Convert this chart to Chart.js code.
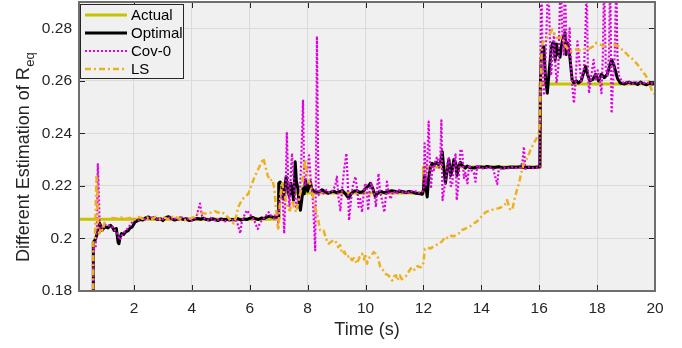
<!DOCTYPE html>
<html>
<head>
<meta charset="utf-8">
<script src="https://cdn.jsdelivr.net/npm/chart.js@4.4.1/dist/chart.umd.min.js"></script>
<style>
  html, body { margin: 0; padding: 0; background: #ffffff; }
  canvas { display: block; }
</style>
</head>
<body>
<canvas id="chart" width="682" height="348"></canvas>
<script>
// Equivalent resistance estimates over time
const seriesNames = ['Actual', 'Optimal', 'Cov-0', 'LS'];
const xTicks = [2, 4, 6, 8, 10, 12, 14, 16, 18, 20];
const yTicks = [0.18, 0.20, 0.22, 0.24, 0.26, 0.28];

const actualT = [0.1, 7.0, 7.0, 12.0, 12.0, 16.04, 16.04, 20.0];
const actualV = [0.2073, 0.2073, 0.2173, 0.2173, 0.2272, 0.2272, 0.2588, 0.2588];

const optimalT = [0.59, 0.595, 0.66, 0.73, 0.81, 0.86, 0.90, 0.96, 1.02, 1.10, 1.19, 1.26, 1.31, 1.39, 1.45, 1.48, 1.52, 1.57, 1.64, 1.71, 1.80, 1.87, 1.94, 2.03, 2.11, 2.2, 2.3, 2.4, 2.5, 2.6, 2.7, 2.8, 2.9, 3.0, 3.1, 3.2, 3.3, 3.4, 3.5, 3.6, 3.7, 3.8, 3.9, 4.0, 4.1, 4.2, 4.3, 4.4, 4.5, 4.6, 4.7, 4.8, 4.9, 5.0, 5.1, 5.2, 5.3, 5.4, 5.5, 5.6, 5.7, 5.8, 5.9, 6.0, 6.1, 6.2, 6.3, 6.4, 6.5, 6.6, 6.7, 6.8, 6.9, 6.98, 7.0, 7.05, 7.11, 7.16, 7.21, 7.26, 7.32, 7.37, 7.42, 7.47, 7.51, 7.54, 7.57, 7.61, 7.66, 7.71, 7.75, 7.80, 7.84, 7.88, 7.92, 7.96, 8.00, 8.04, 8.09, 8.14, 8.2, 8.3, 8.4, 8.5, 8.6, 8.7, 8.8, 8.9, 9.0, 9.1, 9.2, 9.3, 9.42, 9.5, 9.6, 9.7, 9.8, 9.9, 10.0, 10.1, 10.17, 10.25, 10.34, 10.42, 10.5, 10.6, 10.7, 10.8, 10.9, 11.0, 11.1, 11.2, 11.3, 11.4, 11.5, 11.6, 11.7, 11.8, 11.9, 11.96, 12.0, 12.04, 12.07, 12.13, 12.18, 12.24, 12.3, 12.37, 12.45, 12.52, 12.59, 12.65, 12.7, 12.76, 12.82, 12.88, 12.94, 12.99, 13.05, 13.11, 13.16, 13.22, 13.28, 13.34, 13.45, 13.51, 13.6, 13.74, 13.85, 14.0, 14.1, 14.2, 14.3, 14.45, 14.6, 14.75, 14.9, 15.05, 15.2, 15.35, 15.5, 15.65, 15.8, 15.95, 16.02, 16.04, 16.07, 16.1, 16.16, 16.22, 16.28, 16.33, 16.38, 16.42, 16.47, 16.51, 16.55, 16.6, 16.64, 16.68, 16.72, 16.76, 16.82, 16.89, 16.93, 16.98, 17.05, 17.14, 17.2, 17.28, 17.35, 17.45, 17.6, 17.68, 17.75, 17.85, 17.95, 18.05, 18.15, 18.25, 18.35, 18.5, 18.58, 18.7, 18.8, 18.95, 19.1, 19.2, 19.3, 19.4, 19.5, 19.6, 19.7, 19.8, 19.9, 20.0];
const optimalV = [0.170, 0.1986, 0.1995, 0.2019, 0.2059, 0.2045, 0.2031, 0.2040, 0.2044, 0.2040, 0.2050, 0.2042, 0.2031, 0.2038, 0.1985, 0.1980, 0.2005, 0.2019, 0.2015, 0.2025, 0.2030, 0.2040, 0.2044, 0.2062, 0.2067, 0.2072, 0.2070, 0.2078, 0.2082, 0.2075, 0.2080, 0.2072, 0.2076, 0.2068, 0.2080, 0.2083, 0.2075, 0.2070, 0.2074, 0.2078, 0.2072, 0.2075, 0.2068, 0.2070, 0.2074, 0.2076, 0.2073, 0.2077, 0.2072, 0.2070, 0.2075, 0.2072, 0.2068, 0.2074, 0.2071, 0.2073, 0.2070, 0.2072, 0.2071, 0.2075, 0.2070, 0.2074, 0.2072, 0.2077, 0.2080, 0.2075, 0.2072, 0.2078, 0.2076, 0.2082, 0.2085, 0.2080, 0.2082, 0.2078, 0.2210, 0.2215, 0.2205, 0.2150, 0.2200, 0.2235, 0.2180, 0.2160, 0.2210, 0.2180, 0.2146, 0.2200, 0.2292, 0.2220, 0.2190, 0.2130, 0.2107, 0.2150, 0.2190, 0.2170, 0.2222, 0.2200, 0.2180, 0.2195, 0.2216, 0.2190, 0.2180, 0.2176, 0.2178, 0.2185, 0.2178, 0.2172, 0.2176, 0.2180, 0.2174, 0.2178, 0.2182, 0.2170, 0.2153, 0.2170, 0.2180, 0.2182, 0.2175, 0.2178, 0.2190, 0.2200, 0.2210, 0.2190, 0.2159, 0.2172, 0.2180, 0.2176, 0.2174, 0.2178, 0.2182, 0.2180, 0.2176, 0.2180, 0.2178, 0.2175, 0.2179, 0.2177, 0.2173, 0.2171, 0.2170, 0.2168, 0.2185, 0.2240, 0.2210, 0.2158, 0.2230, 0.2270, 0.2286, 0.2280, 0.2290, 0.2282, 0.2290, 0.2330, 0.2270, 0.2210, 0.2260, 0.2300, 0.2240, 0.2260, 0.2300, 0.2290, 0.2240, 0.2276, 0.2290, 0.2278, 0.2268, 0.2276, 0.2270, 0.2268, 0.2272, 0.2272, 0.2270, 0.2274, 0.2272, 0.2270, 0.2273, 0.2268, 0.2270, 0.2272, 0.2271, 0.2273, 0.2270, 0.2271, 0.2270, 0.2272, 0.2272, 0.2590, 0.2680, 0.2719, 0.2730, 0.2602, 0.2553, 0.2620, 0.2680, 0.2730, 0.2745, 0.2744, 0.2680, 0.2740, 0.2700, 0.2720, 0.2690, 0.2730, 0.2760, 0.2783, 0.2700, 0.2745, 0.2700, 0.2602, 0.2592, 0.2600, 0.2592, 0.2600, 0.2655, 0.2620, 0.2600, 0.2605, 0.2625, 0.2600, 0.2625, 0.2612, 0.2625, 0.2680, 0.2660, 0.2610, 0.2592, 0.2588, 0.2595, 0.2590, 0.2592, 0.2586, 0.2595, 0.2589, 0.2585, 0.2590, 0.2588, 0.2590];

const cov0T = [0.59, 0.595, 0.67, 0.72, 0.75, 0.79, 0.82, 0.90, 0.97, 1.05, 1.15, 1.25, 1.35, 1.42, 1.50, 1.55, 1.63, 1.72, 1.80, 1.89, 1.97, 2.05, 2.15, 2.25, 2.35, 2.45, 2.55, 2.65, 2.75, 2.85, 2.95, 3.05, 3.15, 3.25, 3.35, 3.45, 3.55, 3.65, 3.75, 3.85, 3.95, 4.05, 4.15, 4.28, 4.35, 4.45, 4.55, 4.65, 4.75, 4.85, 4.95, 5.05, 5.15, 5.25, 5.35, 5.45, 5.55, 5.62, 5.67, 5.72, 5.8, 5.9, 5.98, 6.06, 6.15, 6.22, 6.28, 6.35, 6.45, 6.55, 6.65, 6.75, 6.85, 6.93, 6.98, 7.03, 7.11, 7.16, 7.19, 7.24, 7.28, 7.33, 7.37, 7.42, 7.46, 7.5, 7.55, 7.6, 7.66, 7.72, 7.78, 7.84, 7.88, 7.92, 7.96, 8.0, 8.05, 8.1, 8.18, 8.26, 8.29, 8.32, 8.35, 8.38, 8.45, 8.55, 8.65, 8.75, 8.85, 8.95, 9.01, 9.07, 9.13, 9.2, 9.27, 9.34, 9.39, 9.43, 9.5, 9.56, 9.65, 9.72, 9.76, 9.82, 9.88, 9.94, 9.99, 10.04, 10.09, 10.14, 10.2, 10.27, 10.32, 10.36, 10.41, 10.45, 10.5, 10.56, 10.65, 10.7, 10.74, 10.8, 10.87, 10.95, 11.05, 11.15, 11.25, 11.35, 11.45, 11.55, 11.65, 11.75, 11.85, 11.95, 12.01, 12.04, 12.08, 12.12, 12.18, 12.22, 12.26, 12.31, 12.36, 12.42, 12.48, 12.54, 12.58, 12.62, 12.66, 12.72, 12.79, 12.85, 12.88, 12.94, 12.99, 13.05, 13.11, 13.15, 13.2, 13.28, 13.34, 13.4, 13.45, 13.52, 13.58, 13.66, 13.74, 13.8, 13.86, 13.95, 14.1, 14.25, 14.4, 14.55, 14.6, 14.75, 14.9, 15.05, 15.2, 15.35, 15.42, 15.47, 15.52, 15.6, 15.75, 15.9, 16.02, 16.05, 16.08, 16.12, 16.17, 16.22, 16.27, 16.31, 16.36, 16.41, 16.46, 16.51, 16.55, 16.6, 16.66, 16.74, 16.8, 16.85, 16.88, 16.94, 17.0, 17.05, 17.1, 17.16, 17.2, 17.26, 17.32, 17.38, 17.45, 17.55, 17.6, 17.64, 17.68, 17.72, 17.8, 17.88, 17.95, 18.02, 18.1, 18.15, 18.2, 18.24, 18.3, 18.36, 18.41, 18.45, 18.5, 18.56, 18.61, 18.66, 18.7, 18.75, 18.85, 18.95, 19.05, 19.15, 19.25, 19.4, 19.55, 19.7, 19.85, 20.0];
const cov0V = [0.170, 0.1960, 0.1961, 0.2050, 0.2286, 0.2150, 0.2019, 0.2044, 0.2050, 0.2055, 0.2048, 0.2044, 0.2030, 0.2019, 0.1995, 0.2006, 0.2020, 0.2030, 0.2040, 0.2056, 0.2065, 0.2072, 0.2070, 0.2078, 0.2070, 0.2080, 0.2074, 0.2084, 0.2070, 0.2078, 0.2068, 0.2080, 0.2074, 0.2082, 0.2070, 0.2078, 0.2072, 0.2080, 0.2070, 0.2076, 0.2068, 0.2072, 0.2080, 0.2133, 0.2085, 0.2075, 0.2070, 0.2078, 0.2072, 0.2066, 0.2074, 0.2070, 0.2065, 0.2072, 0.2068, 0.2072, 0.2066, 0.2040, 0.2019, 0.2060, 0.2085, 0.2107, 0.2095, 0.2085, 0.2070, 0.2050, 0.2036, 0.2060, 0.2072, 0.2085, 0.2100, 0.2085, 0.2075, 0.2110, 0.2060, 0.2140, 0.2190, 0.2100, 0.2019, 0.2200, 0.2401, 0.2200, 0.2120, 0.2250, 0.2324, 0.2240, 0.2180, 0.2120, 0.2150, 0.2146, 0.2300, 0.2528, 0.2230, 0.2200, 0.2250, 0.2260, 0.2316, 0.2230, 0.2146, 0.1955, 0.2300, 0.2770, 0.2400, 0.2165, 0.2180, 0.2172, 0.2185, 0.2175, 0.2180, 0.2200, 0.2235, 0.2150, 0.2107, 0.2200, 0.2270, 0.2324, 0.2200, 0.2069, 0.2150, 0.2200, 0.2235, 0.2180, 0.2120, 0.2150, 0.2100, 0.2180, 0.2210, 0.2190, 0.2107, 0.2180, 0.2210, 0.2180, 0.2160, 0.2120, 0.2200, 0.2247, 0.2180, 0.2150, 0.2100, 0.2160, 0.2216, 0.2170, 0.2150, 0.2180, 0.2170, 0.2185, 0.2175, 0.2180, 0.2170, 0.2182, 0.2176, 0.2180, 0.2174, 0.2178, 0.2185, 0.2362, 0.2200, 0.2260, 0.2445, 0.2300, 0.2190, 0.2280, 0.2260, 0.2300, 0.2310, 0.2270, 0.2300, 0.2450, 0.2146, 0.2190, 0.2240, 0.2300, 0.2310, 0.2200, 0.2200, 0.2280, 0.2320, 0.2146, 0.2200, 0.2340, 0.2330, 0.2230, 0.2250, 0.2210, 0.2280, 0.2260, 0.2250, 0.2216, 0.2280, 0.2270, 0.2265, 0.2272, 0.2268, 0.2207, 0.2262, 0.2270, 0.2266, 0.2272, 0.2268, 0.2270, 0.2290, 0.2349, 0.2265, 0.2272, 0.2268, 0.2270, 0.2272, 0.2757, 0.3000, 0.2600, 0.2545, 0.2700, 0.2850, 0.3000, 0.2800, 0.2620, 0.2700, 0.2780, 0.2680, 0.2592, 0.2650, 0.3000, 0.2780, 0.2700, 0.3000, 0.2750, 0.2700, 0.2800, 0.2650, 0.2560, 0.2515, 0.2600, 0.2750, 0.2680, 0.2600, 0.2650, 0.2800, 0.3000, 0.2650, 0.2553, 0.2620, 0.2680, 0.2600, 0.2640, 0.2600, 0.2553, 0.2700, 0.3000, 0.2650, 0.2620, 0.2700, 0.3000, 0.2477, 0.2620, 0.2700, 0.3000, 0.2700, 0.2620, 0.2598, 0.2590, 0.2600, 0.2592, 0.2588, 0.2596, 0.2590, 0.2594, 0.2588, 0.2592];

const lsT = [0.59, 0.595, 0.65, 0.70, 0.73, 0.76, 0.80, 0.86, 0.92, 0.98, 1.05, 1.12, 1.25, 1.4, 1.55, 1.7, 1.85, 2.0, 2.15, 2.3, 2.45, 2.6, 2.75, 2.9, 3.05, 3.2, 3.35, 3.5, 3.65, 3.8, 3.95, 4.05, 4.15, 4.28, 4.4, 4.55, 4.7, 4.8, 4.9, 5.0, 5.1, 5.2, 5.3, 5.44, 5.52, 5.6, 5.67, 5.75, 5.85, 5.95, 6.05, 6.15, 6.3, 6.47, 6.55, 6.62, 6.7, 6.78, 6.85, 6.9, 6.95, 6.99, 7.05, 7.11, 7.18, 7.25, 7.32, 7.39, 7.46, 7.53, 7.6, 7.66, 7.72, 7.8, 7.86, 7.92, 7.98, 8.03, 8.1, 8.17, 8.26, 8.35, 8.43, 8.55, 8.63, 8.72, 8.85, 8.95, 9.05, 9.12, 9.19, 9.27, 9.35, 9.45, 9.53, 9.6, 9.7, 9.8, 9.88, 9.95, 9.99, 10.05, 10.12, 10.2, 10.28, 10.35, 10.42, 10.51, 10.6, 10.68, 10.78, 10.85, 10.92, 10.98, 11.05, 11.1, 11.18, 11.25, 11.32, 11.43, 11.5, 11.6, 11.7, 11.8, 11.9, 11.98, 12.02, 12.05, 12.15, 12.25, 12.35, 12.42, 12.55, 12.65, 12.76, 12.85, 12.95, 13.05, 13.15, 13.22, 13.3, 13.4, 13.5, 13.6, 13.74, 13.85, 13.95, 14.05, 14.15, 14.32, 14.45, 14.6, 14.72, 14.82, 14.89, 14.95, 15.01, 15.08, 15.15, 15.22, 15.3, 15.38, 15.47, 15.58, 15.7, 15.8, 15.88, 15.99, 16.02, 16.05, 16.08, 16.11, 16.2, 16.28, 16.37, 16.45, 16.52, 16.6, 16.7, 16.8, 16.91, 17.0, 17.09, 17.2, 17.3, 17.4, 17.49, 17.6, 17.72, 17.85, 17.95, 18.05, 18.18, 18.3, 18.45, 18.55, 18.64, 18.75, 18.87, 19.0, 19.1, 19.2, 19.33, 19.45, 19.56, 19.68, 19.79, 19.85, 19.92, 20.0];
const lsV = [0.170, 0.1990, 0.2000, 0.2235, 0.2200, 0.2030, 0.2019, 0.2040, 0.2030, 0.2060, 0.2070, 0.2075, 0.2078, 0.2076, 0.2080, 0.2074, 0.2078, 0.2072, 0.2082, 0.2075, 0.2080, 0.2072, 0.2083, 0.2075, 0.2080, 0.2072, 0.2085, 0.2078, 0.2074, 0.2070, 0.2076, 0.2080, 0.2090, 0.2100, 0.2096, 0.2094, 0.2100, 0.2104, 0.2098, 0.2102, 0.2095, 0.2085, 0.2075, 0.2057, 0.2080, 0.2120, 0.2134, 0.2150, 0.2160, 0.2170, 0.2200, 0.2230, 0.2265, 0.2305, 0.2270, 0.2240, 0.2220, 0.2225, 0.2190, 0.2120, 0.2060, 0.2031, 0.2150, 0.2216, 0.2170, 0.2146, 0.2110, 0.2107, 0.2146, 0.2120, 0.2100, 0.2130, 0.2160, 0.2197, 0.2260, 0.2299, 0.2250, 0.2222, 0.2200, 0.2170, 0.2120, 0.2080, 0.2031, 0.2031, 0.2000, 0.1980, 0.1990, 0.1993, 0.1967, 0.1975, 0.1942, 0.1950, 0.1929, 0.1935, 0.1917, 0.1925, 0.1904, 0.1930, 0.1942, 0.1920, 0.1942, 0.1904, 0.1925, 0.1935, 0.1948, 0.1942, 0.1930, 0.1891, 0.1880, 0.1866, 0.1860, 0.1853, 0.1840, 0.1855, 0.1860, 0.1840, 0.1860, 0.1845, 0.1850, 0.1860, 0.1875, 0.1891, 0.1880, 0.1895, 0.1890, 0.1895, 0.1930, 0.1961, 0.1965, 0.1962, 0.1970, 0.1974, 0.1980, 0.1990, 0.2006, 0.2000, 0.2010, 0.2008, 0.2015, 0.2019, 0.2031, 0.2035, 0.2040, 0.2045, 0.2057, 0.2065, 0.2075, 0.2090, 0.2100, 0.2107, 0.2112, 0.2115, 0.2120, 0.2130, 0.2146, 0.2125, 0.2107, 0.2115, 0.2150, 0.2180, 0.2210, 0.2250, 0.2286, 0.2305, 0.2337, 0.2360, 0.2375, 0.2401, 0.2450, 0.2592, 0.2700, 0.2744, 0.2755, 0.2764, 0.2780, 0.2795, 0.2780, 0.2764, 0.2764, 0.2766, 0.2731, 0.2720, 0.2712, 0.2718, 0.2720, 0.2716, 0.2718, 0.2722, 0.2722, 0.2730, 0.2744, 0.2740, 0.2735, 0.2732, 0.2735, 0.2738, 0.2737, 0.2730, 0.2718, 0.2705, 0.2693, 0.2685, 0.2670, 0.2655, 0.2636, 0.2620, 0.2598, 0.2575, 0.2555, 0.2550];

const FONT = '"Liberation Sans", Arial, Helvetica, sans-serif';
const INK = '#262626';

function pairs(ts, vs) {
  return ts.map((t, i) => ({ x: t, y: vs[i] }));
}

const styles = [
  { color: '#c4c400', width: 3, dash: [] },
  { color: '#000000', width: 3, dash: [] },
  { color: '#e000e0', width: 2.2, dash: [2, 2] },
  { color: '#edb120', width: 2.5, dash: [6, 3, 2, 3] }
];
const seriesData = [
  pairs(actualT, actualV),
  pairs(optimalT, optimalV),
  pairs(cov0T, cov0V),
  pairs(lsT, lsV)
];

const datasets = seriesNames.map((name, i) => ({
  label: name,
  data: seriesData[i],
  borderColor: styles[i].color,
  borderWidth: styles[i].width,
  borderDash: styles[i].dash,
  borderCapStyle: 'butt',
  borderJoinStyle: 'round',
  pointRadius: 0,
  tension: 0,
  fill: false,
  clip: 0,
  order: seriesNames.length - i
}));

// Plot-area background, inner tick marks, frame, axis titles and legend
const decor = {
  id: 'decor',
  beforeDraw(chart) {
    const { ctx, chartArea: a } = chart;
    ctx.save();
    ctx.fillStyle = '#f0f0f0';
    ctx.fillRect(a.left, a.top, a.right - a.left, a.bottom - a.top);
    ctx.restore();
  },
  afterDraw(chart) {
    const { ctx, chartArea: a } = chart;
    const xs = chart.scales.x, ys = chart.scales.y;
    ctx.save();
    // inner tick marks on all four sides
    ctx.strokeStyle = INK;
    ctx.lineWidth = 1;
    ctx.beginPath();
    xTicks.forEach(v => {
      const px = Math.round(xs.getPixelForValue(v)) + 0.5;
      ctx.moveTo(px, a.bottom); ctx.lineTo(px, a.bottom - 6);
      ctx.moveTo(px, a.top); ctx.lineTo(px, a.top + 6);
    });
    yTicks.forEach(v => {
      const py = Math.round(ys.getPixelForValue(v)) + 0.5;
      ctx.moveTo(a.left, py); ctx.lineTo(a.left + 6, py);
      ctx.moveTo(a.right, py); ctx.lineTo(a.right - 6, py);
    });
    ctx.stroke();
    // frame
    ctx.strokeStyle = '#6e6e6e';
    ctx.lineWidth = 2;
    ctx.strokeRect(a.left, a.top, a.right - a.left, a.bottom - a.top);

    // x title
    ctx.fillStyle = INK;
    ctx.font = '18px ' + FONT;
    ctx.textAlign = 'center';
    ctx.textBaseline = 'alphabetic';
    ctx.fillText('Time (s)', (a.left + a.right) / 2, 334.5);

    // y title with subscript
    ctx.save();
    ctx.translate(28.5, 262);
    ctx.rotate(-Math.PI / 2);
    ctx.textAlign = 'left';
    ctx.font = '18px ' + FONT;
    const main = 'Different Estimation of R';
    ctx.fillText(main, 0, 0);
    const w = ctx.measureText(main).width;
    ctx.font = '13px ' + FONT;
    ctx.fillText('eq', w + 0.5, 5);
    ctx.restore();

    // legend
    const lx = 80.5, ly = 4.5, lw = 103, lh = 74;
    ctx.fillStyle = '#f0f0f0';
    ctx.fillRect(lx, ly, lw, lh);
    ctx.strokeStyle = INK;
    ctx.lineWidth = 1;
    ctx.strokeRect(lx, ly, lw, lh);
    const rows = [15, 33, 51, 69];
    ctx.font = '15px ' + FONT;
    ctx.textBaseline = 'middle';
    ctx.textAlign = 'left';
    seriesNames.forEach((name, i) => {
      const s = styles[i];
      ctx.save();
      ctx.strokeStyle = s.color;
      ctx.lineWidth = s.width;
      ctx.setLineDash(s.dash);
      ctx.lineCap = 'butt';
      ctx.beginPath();
      ctx.moveTo(85, rows[i]);
      ctx.lineTo(127, rows[i]);
      ctx.stroke();
      ctx.restore();
      ctx.fillStyle = '#000000';
      ctx.fillText(name, 131, rows[i] + 0.5);
    });
    ctx.restore();
  }
};

function noScalePadding(scale) {
  scale.paddingTop = 0;
  scale.paddingBottom = 0;
  scale.paddingLeft = 0;
  scale.paddingRight = 0;
}

new Chart(document.getElementById('chart'), {
  type: 'line',
  data: { datasets },
  options: {
    responsive: false,
    animation: false,
    devicePixelRatio: 1,
    layout: { padding: { top: 2, right: 27, left: 0, bottom: 0 } },
    plugins: { legend: { display: false }, tooltip: { enabled: false } },
    scales: {
      x: {
        type: 'linear',
        min: 0.1,
        max: 20,
        afterBuildTicks: (scale) => { scale.ticks = xTicks.map(v => ({ value: v })); },
        afterFit: (scale) => { scale.height = 57; noScalePadding(scale); },
        grid: { color: '#dadada', lineWidth: 1, drawTicks: false },
        border: { display: false },
        ticks: {
          padding: 8,
          maxRotation: 0,
          autoSkip: false,
          color: INK,
          font: { family: FONT, size: 15.5 },
          callback: (v) => String(v)
        }
      },
      y: {
        type: 'linear',
        min: 0.18,
        max: 0.29,
        afterBuildTicks: (scale) => { scale.ticks = yTicks.map(v => ({ value: v })); },
        afterFit: (scale) => { scale.width = 79; noScalePadding(scale); },
        grid: { color: '#dadada', lineWidth: 1, drawTicks: false },
        border: { display: false },
        ticks: {
          padding: 7,
          autoSkip: false,
          color: INK,
          font: { family: FONT, size: 15.5 },
          callback: (v) => String(+Number(v).toFixed(2))
        }
      }
    }
  },
  plugins: [decor]
});
</script>
</body>
</html>
